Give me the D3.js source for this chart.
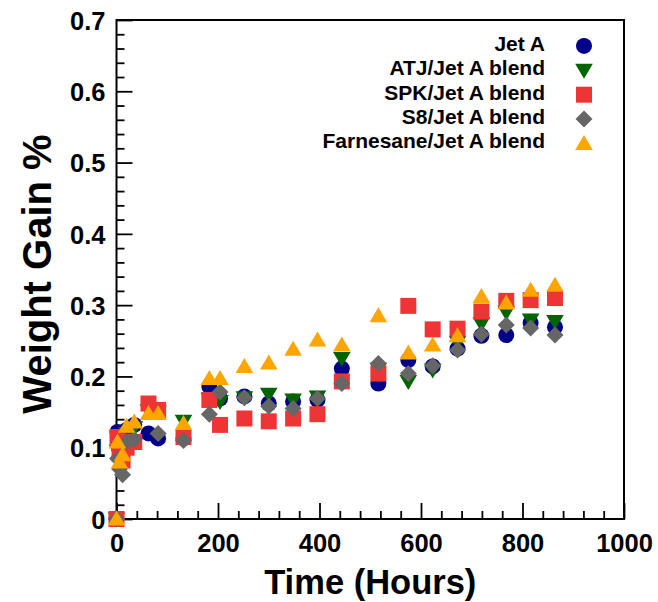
<!DOCTYPE html>
<html>
<head>
<meta charset="utf-8">
<script src="https://cdn.jsdelivr.net/npm/d3@7"></script>
<style>
  html, body { margin: 0; padding: 0; background: #fff; }
  svg { display: block; }
  text { font-family: "Liberation Sans", Arial, Helvetica, sans-serif; font-weight: bold; fill: #000; }
</style>
</head>
<body>
<svg id="chart" width="658" height="602"></svg>
<script>
// Sampling times (hours) shared by all fuels
const hours = [0, 2, 6, 12, 20, 35, 63, 82, 132, 183, 204, 252, 300, 348, 396, 444, 516, 575, 623, 672, 719, 768, 816, 864];

// Weight gain (%) for each fuel at the times above (null = no reading)
const jetA      = [0, 0.122, 0.110, 0.105, 0.125, 0.132, 0.120, 0.113, 0.113, 0.186, 0.169, 0.172, 0.162, 0.165, 0.167, 0.211, 0.190, 0.223, 0.214, 0.239, 0.257, 0.258, 0.275, 0.269];
const atjBlend  = [0, 0.095, 0.088, 0.100, 0.120, 0.128, 0.152, 0.150, 0.137, 0.168, 0.165, 0.170, 0.175, 0.167, 0.171, 0.225, 0.210, 0.193, 0.209, 0.248, 0.274, 0.290, 0.279, 0.277];
const spkBlend  = [0, 0.115, 0.092, 0.082, 0.100, 0.108, 0.162, 0.153, 0.115, 0.167, 0.132, 0.141, 0.137, 0.141, 0.147, 0.193, 0.204, 0.299, 0.266, 0.267, 0.291, 0.306, 0.307, 0.310];
const s8Blend   = [0, 0.085, 0.070, 0.062, 0.108, 0.112, null,  0.120, 0.110, 0.147, 0.178, 0.170, 0.158, 0.155, 0.169, 0.190, 0.218, 0.204, 0.215, 0.237, 0.259, 0.272, 0.268, 0.258];
const farnBlend = [0, 0.108, 0.080, 0.090, 0.130, 0.136, 0.148, 0.148, 0.134, 0.197, 0.197, 0.214, 0.219, 0.238, 0.251, 0.244, 0.285, 0.233, 0.244, 0.257, 0.312, 0.303, 0.321, 0.328];

const seriesNames = ["Jet A", "ATJ/Jet A blend", "SPK/Jet A blend", "S8/Jet A blend", "Farnesane/Jet A blend"];
const seriesValues = [jetA, atjBlend, spkBlend, s8Blend, farnBlend];

const xMajorTicks = [0, 200, 400, 600, 800, 1000];
const yMajorTicks = [0, 0.1, 0.2, 0.3, 0.4, 0.5, 0.6, 0.7];

// Marker look per series
const markerShapes = ["circle", "triangleDown", "square", "diamond", "triangleUp"];
const markerColors = ["#00008B", "#006400", "#EE3535", "#666666", "#FFA500"];

const svg = d3.select("#chart");
const plot = { left: 116.5, right: 624, top: 20, bottom: 519 };

const x = d3.scaleLinear().domain([0, 1000]).range([plot.left, plot.right]);
const y = d3.scaleLinear().domain([0, 0.7]).range([plot.bottom, plot.top]);

// Marker path generators, centred on the origin
function markerPath(shape) {
  switch (shape) {
    case "circle": return "M8,0A8,8 0 1,1 -8,0A8,8 0 1,1 8,0Z";
    case "square": return "M-8,-8H8V8H-8Z";
    case "diamond": return "M0,-8.5L8.5,0L0,8.5L-8.5,0Z";
    case "triangleUp": return "M0,-8.5L8.8,6.5L-8.8,6.5Z";
    case "triangleDown": return "M0,8.5L8.8,-6.5L-8.8,-6.5Z";
  }
}

const tickFont = g => g
  .attr("fill", "#000")
  .style("font-size", "25.5px").style("font-weight", "bold")
  .style("font-family", '"Liberation Sans", Arial, sans-serif');

// Minor ticks
const xMinor = d3.range(0, 1001, 40).filter(v => v % 200 !== 0);
const yMinor = d3.range(0, 71, 2).map(v => v / 100).filter((v, i) => i % 5 !== 0);

svg.append("g")
  .attr("transform", `translate(0,${plot.bottom})`)
  .call(d3.axisBottom(x).tickValues(xMinor).tickSize(-8).tickFormat(""))
  .call(g => g.select(".domain").remove())
  .call(g => g.selectAll("line").attr("stroke", "#000").attr("stroke-width", 1.8));

svg.append("g")
  .attr("transform", `translate(${plot.left},0)`)
  .call(d3.axisLeft(y).tickValues(yMinor).tickSize(-8).tickFormat(""))
  .call(g => g.select(".domain").remove())
  .call(g => g.selectAll("line").attr("stroke", "#000").attr("stroke-width", 1.8));

// Major ticks with labels
svg.append("g")
  .attr("transform", `translate(0,${plot.bottom})`)
  .call(d3.axisBottom(x).tickValues(xMajorTicks).tickSize(-16).tickFormat(d3.format("d")))
  .call(g => g.select(".domain").remove())
  .call(g => g.selectAll("line").attr("stroke", "#000").attr("stroke-width", 1.8))
  .call(g => g.selectAll("text").attr("y", 33).attr("dy", null).call(tickFont));

svg.append("g")
  .attr("transform", `translate(${plot.left},0)`)
  .call(d3.axisLeft(y).tickValues(yMajorTicks).tickSize(-16).tickFormat(d => d === 0 ? "0" : d3.format(".1f")(d)))
  .call(g => g.select(".domain").remove())
  .call(g => g.selectAll("line").attr("stroke", "#000").attr("stroke-width", 1.8))
  .call(g => g.selectAll("text").attr("x", -11).attr("dy", "0.36em").call(tickFont));

// Frame
svg.append("rect")
  .attr("x", plot.left).attr("y", plot.top)
  .attr("width", plot.right - plot.left).attr("height", plot.bottom - plot.top)
  .attr("fill", "none").attr("stroke", "#000").attr("stroke-width", 2);

// Data markers
seriesValues.forEach((vals, si) => {
  const pts = hours.map((h, i) => ({ h, v: vals[i] })).filter(d => d.v !== null);
  svg.append("g").selectAll("path")
    .data(pts)
    .join("path")
    .attr("d", markerPath(markerShapes[si]))
    .attr("transform", d => `translate(${x(d.h)},${y(d.v)})`)
    .attr("fill", markerColors[si]);
});

// Legend
const legend = svg.append("g");
seriesNames.forEach((name, i) => {
  const base = 50.7 + i * 24.4;
  legend.append("text")
    .attr("x", 545).attr("y", base)
    .attr("text-anchor", "end")
    .style("font-size", "21px")
    .text(name);
  legend.append("path")
    .attr("d", markerPath(markerShapes[i]))
    .attr("transform", `translate(584,${base - 4.8})`)
    .attr("fill", markerColors[i]);
});

// Axis titles
svg.append("text")
  .attr("x", (plot.left + plot.right) / 2)
  .attr("y", 594)
  .attr("text-anchor", "middle")
  .style("font-size", "34.5px")
  .text("Time (Hours)");

svg.append("text")
  .attr("transform", `translate(51,274) rotate(-90)`)
  .attr("text-anchor", "middle")
  .style("font-size", "40px")
  .text("Weight Gain %");
</script>
</body>
</html>
